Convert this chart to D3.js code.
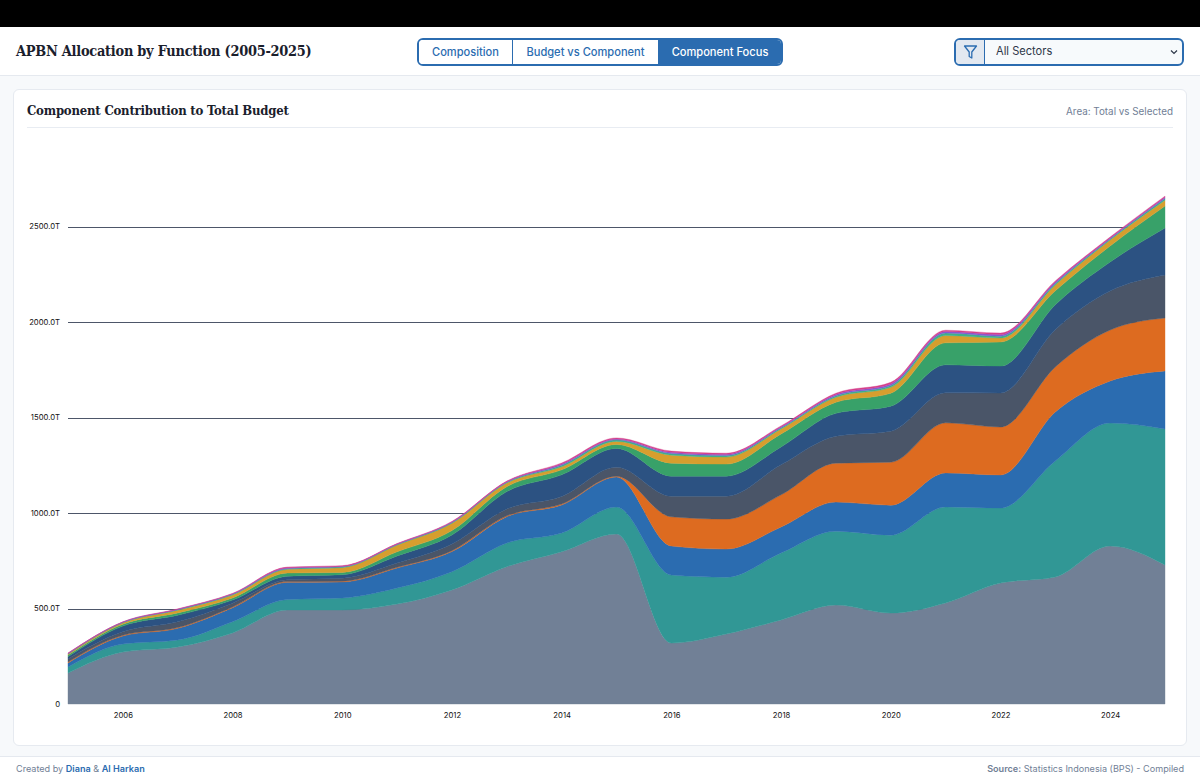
<!DOCTYPE html>
<html>
<head>
<meta charset="utf-8">
<script src="https://cdn.jsdelivr.net/npm/d3@7"></script>
<style>
html, body { margin: 0; padding: 0; width: 1200px; height: 780px; overflow: hidden; background: #f7f9fb; font-family: Inter, sans-serif; }
#topbar { position: absolute; left: 0; top: 0; width: 1200px; height: 27px; background: #000; }
#header { position: absolute; left: 0; top: 27px; width: 1200px; height: 48px; background: #fff; border-bottom: 1px solid #e5e9ef; }
#title { position: absolute; left: 16px; top: 15px; font: bold 14.4px "DejaVu Serif", serif; font-stretch: condensed; color: #1a202c; white-space: nowrap; letter-spacing: -0.25px; }
#tabs { position: absolute; left: 417px; top: 10.5px; width: 362px; height: 24px; border: 2px solid #2b6cb0; border-radius: 6px; display: flex; overflow: hidden; }
#tabs div { font-size: 11.1px; font-weight: 500; color: #2b6cb0; text-align: center; line-height: 24px; border-right: 1px solid #2b6cb0; box-sizing: border-box; background: #fff; }
#tabs div.on { background: #2b6cb0; color: #fff; border-right: 0; }
#filter { position: absolute; left: 954px; top: 10.5px; width: 226px; height: 24px; border: 2px solid #2b6cb0; border-radius: 6px; display: flex; overflow: hidden; background: #f7fafc; }
#filtericon { width: 28px; background: #e2e8f0; border-right: 1px solid #2b6cb0; }
#filtertext { position: absolute; left: 40px; top: 0; line-height: 23px; font-size: 11.1px; color: #2d3748; }
#card { position: absolute; left: 13px; top: 89px; width: 1172px; height: 655px; background: #fff; border: 1px solid #e6eaf0; border-radius: 6px; }
#cardtitle { position: absolute; left: 13px; top: 13px; font: bold 13px "DejaVu Serif", serif; font-stretch: condensed; color: #1a202c; white-space: nowrap; letter-spacing: -0.2px; }
#cardnote { position: absolute; right: 13px; top: 15px; font-size: 9.85px; color: #718096; }
#carddivider { position: absolute; left: 13px; right: 13px; top: 37px; height: 1px; background: #e8ecf2; }
#footer { position: absolute; left: 0; top: 756px; width: 1200px; height: 24px; background: #fff; border-top: 1px solid #e5e9ef; font-size: 9.1px; color: #718096; }
#footer .left { position: absolute; left: 16px; top: 6px; }
#footer .right { position: absolute; right: 16px; top: 6px; }
#footer b { color: #2b6cb0; font-weight: 600; }
#footer .right b { color: #718096; }
#chart { position: absolute; left: 0; top: 0; }
</style>
</head>
<body>
<div id="topbar"></div>
<div id="header">
	<div id="title">APBN Allocation by Function (2005-2025)</div>
	<div id="tabs"></div>
	<div id="filter">
		<div id="filtericon"></div>
		<div id="filtertext">All Sectors</div>
	</div>
</div>
<div id="card">
	<div id="cardtitle">Component Contribution to Total Budget</div>
	<div id="cardnote">Area: Total vs Selected</div>
	<div id="carddivider"></div>
</div>
<div id="footer">
	<div class="left">Created by <b>Diana</b> &amp; <b>Al Harkan</b></div>
	<div class="right"><b>Source:</b> Statistics Indonesia (BPS) - Compiled</div>
</div>
<svg id="chart" width="1200" height="780"></svg>

<script>
var years = [2005,2006,2007,2008,2009,2010,2011,2012,2013,2014,2015,2016,2017,2018,2019,2020,2021,2022,2023,2024,2025];

// values in trillion rupiah, bottom layer first
var slate = [162,272,298,372,492,492,523,597,719,797,890,319,366,440,518,476,529,633,665,827,728];
var teal = [32,42,37,59,55,63,84,96,124,98,141,356,298,351,387,408,503,393,607,644,712];
var blue = [21,42,61,73,90,84,105,105,138,147,157,152,147,136,152,157,178,173,257,220,304];
var orange = [5,4,4,4,4,4,4,5,4,5,5,153,157,168,204,225,262,251,236,267,277];
var charcoal = [16,18,30,20,10,15,22,35,36,40,47,108,120,157,141,162,157,178,194,204,225];
var navy = [12,30,35,16,18,19,37,47,91,113,98,105,105,94,120,131,147,141,131,152,246];
var green = [8,10,12,11,17,12,22,23,26,26,21,68,63,68,58,68,115,126,73,84,115];
var amber = [5,7,14,16,19,25,35,38,19,16,16,42,37,26,26,31,38,21,31,31,31];
var mint = [2,2,3,3,4,4,3,4,4,8,8,8,8,6,8,10,14,10,8,6,8];
var violet = [2,2,2,3,4,3,3,3,3,6,5,7,6,5,7,8,7,8,7,5,7];
var pink = [2,1,2,2,4,3,2,3,3,6,5,6,6,5,6,8,7,8,6,5,6];

var layerValues = [slate, teal, blue, orange, charcoal, navy, green, amber, mint, violet, pink];
var layerColors = ["#718096","#319795","#2b6cb0","#dd6b20","#4a5568","#2c5282","#38a169","#d69e2e","#3fb08a","#805ad5","#d53f8c"];

var yTicks = [0,500,1000,1500,2000,2500];
var xTicks = [2006,2008,2010,2012,2014,2016,2018,2020,2022,2024];
var tabNames = ["Composition","Budget vs Component","Component Focus"];
var tabWidths = [94,146,122];

// tabs
d3.select("#tabs").selectAll("div").data(tabNames).enter().append("div")
	.attr("class", function (d, i) { return i == 2 ? "on" : null; })
	.style("width", function (d, i) { return tabWidths[i] + "px"; })
	.text(function (d) { return d; });

// funnel icon
var icon = d3.select("#filtericon").append("svg").attr("width", 28).attr("height", 24);
icon.append("path").attr("d", "M8.5 6 H20.5 L15.8 12 V18 L13.2 16.5 V12 Z")
	.attr("fill", "none").attr("stroke", "#2b6cb0").attr("stroke-width", 1.3).attr("stroke-linejoin", "round");

// chevron in the select
d3.select("#filter").append("svg").attr("width", 12).attr("height", 24)
	.style("position", "absolute").style("right", "2px").style("top", "0")
	.append("path").attr("d", "M3 10.5 L6 13.5 L9 10.5").attr("fill", "none").attr("stroke", "#2d3748").attr("stroke-width", 1.2);

var svg = d3.select("#chart");
var x = d3.scaleLinear().domain([2005, 2025]).range([68, 1165]);
var y = d3.scaleLinear().domain([0, 2500]).range([704, 226.5]);

// one row per year for the stack
var rows = years.map(function (year, i) {
	var row = { year: year };
	layerValues.forEach(function (values, k) { row[k] = values[i]; });
	return row;
});
var stacked = d3.stack().keys(layerValues.map(function (v, k) { return k; }))(rows);

var yAxis = d3.axisLeft(y).tickValues(yTicks).tickSize(0).tickPadding(8)
	.tickFormat(function (d) { return d == 0 ? "0" : d.toFixed(1) + "T"; });
var gy = svg.append("g").attr("transform", "translate(68,0)").call(yAxis);
gy.select(".domain").remove();
gy.selectAll("text").style("font-family", "Inter, sans-serif").style("font-size", "7.7px").style("fill", "#111");
gy.selectAll(".tick").filter(function (d) { return d > 0; }).append("line")
	.attr("x1", 0).attr("x2", 1097).attr("stroke", "#4d5669").attr("stroke-width", 1)
	.attr("shape-rendering", "crispEdges");

var area = d3.area().curve(d3.curveMonotoneX)
	.x(function (d) { return x(d.data.year); })
	.y0(function (d) { return y(d[0]); })
	.y1(function (d) { return y(d[1]); });

// thin same colour stroke closes the seams between the layers
svg.append("g").selectAll("path").data(stacked).enter().append("path")
	.attr("fill", function (d, i) { return layerColors[i]; })
	.attr("stroke", function (d, i) { return layerColors[i]; })
	.attr("stroke-width", 0.4)
	.attr("d", area);

var xAxis = d3.axisBottom(x).tickValues(xTicks).tickSize(0).tickPadding(9).tickFormat(d3.format("d"));
var gx = svg.append("g").attr("transform", "translate(0,704)").call(xAxis);
gx.select(".domain").remove();
gx.selectAll("text").style("font-family", "Inter, sans-serif").style("font-size", "7.7px").style("fill", "#111");
</script>
</body>
</html>
